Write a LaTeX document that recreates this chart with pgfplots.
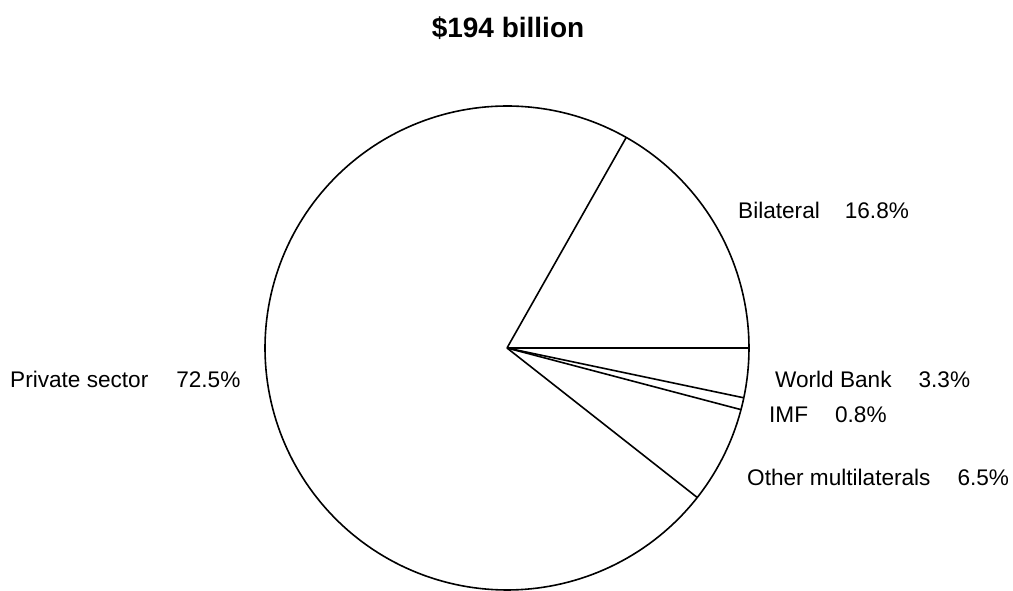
\documentclass[border=0pt]{standalone}
\usepackage{pgfplots}
\pgfplotsset{compat=1.18}
\usepackage{pgfplotstable}
\usepackage{fontspec}
\setmainfont{Liberation Sans}

% shares of the $194 billion (percent)
\pgfplotstableread[col sep=comma]{
label,share
Bilateral,16.8
World Bank,3.3
IMF,0.8
Other multilaterals,6.5
Private sector,72.5
}\pietable

\begin{document}
\begin{tikzpicture}[
  lbl/.style={anchor=base west, inner sep=0pt, font=\fontsize{22.6bp}{26bp}\selectfont},
]
% boundary angles computed from the shares
\pgfplotstablegetelem{0}{share}\of\pietable \let\sBil\pgfplotsretval
\pgfplotstablegetelem{1}{share}\of\pietable \let\sWB\pgfplotsretval
\pgfplotstablegetelem{2}{share}\of\pietable \let\sIMF\pgfplotsretval
\pgfplotstablegetelem{3}{share}\of\pietable \let\sOth\pgfplotsretval
\def\cx{507}\def\cy{243}\def\R{242}
\pgfmathsetmacro\aA{3.6*\sBil}
\pgfmathsetmacro\aB{0}
\pgfmathsetmacro\aC{-3.6*\sWB}
\pgfmathsetmacro\aD{\aC-3.6*\sIMF}
\pgfmathsetmacro\aE{\aD-3.6*\sOth}
\foreach \n/\a in {A/\aA,B/\aB,C/\aC,D/\aD,E/\aE}{
  \pgfmathsetmacro\tx{\cx+\R*cos(\a)}\global\expandafter\let\csname x\n\endcsname\tx
  \pgfmathsetmacro\ty{\cy+\R*sin(\a)}\global\expandafter\let\csname y\n\endcsname\ty
}
\begin{axis}[
  width=1013bp, height=591bp, scale only axis,
  xmin=0, xmax=1013, ymin=0, ymax=591,
  hide axis, clip=false,
]
\path (rel axis cs:0,0) (rel axis cs:1,1);
\addplot[black, line width=1.6bp, domain=0:360, samples=240, no marks]
  ({\cx+\R*cos(x)},{\cy+\R*sin(x)});
\addplot[black, line width=1.6bp, no marks] coordinates {(\cx,\cy) (\xA,\yA)};
\addplot[black, line width=1.6bp, no marks] coordinates {(\cx,\cy) (\xB,\yB)};
\addplot[black, line width=1.6bp, no marks] coordinates {(\cx,\cy) (\xC,\yC)};
\addplot[black, line width=1.6bp, no marks] coordinates {(\cx,\cy) (\xD,\yD)};
\addplot[black, line width=1.6bp, no marks] coordinates {(\cx,\cy) (\xE,\yE)};

\node[anchor=base, inner sep=0pt, font=\fontsize{28bp}{32bp}\selectfont\bfseries] at (axis cs:508,553) {\$194 billion};
\node[lbl] at (axis cs:738,372) {Bilateral\hspace{25bp}16.8\%};
\node[lbl] at (axis cs:775,203) {World Bank\hspace{27bp}3.3\%};
\node[lbl] at (axis cs:769,168) {IMF\hspace{27bp}0.8\%};
\node[lbl] at (axis cs:747,105) {Other multilaterals\hspace{27bp}6.5\%};
\node[lbl] at (axis cs:10,203) {Private sector\hspace{28bp}72.5\%};
\end{axis}
\end{tikzpicture}
\end{document}
